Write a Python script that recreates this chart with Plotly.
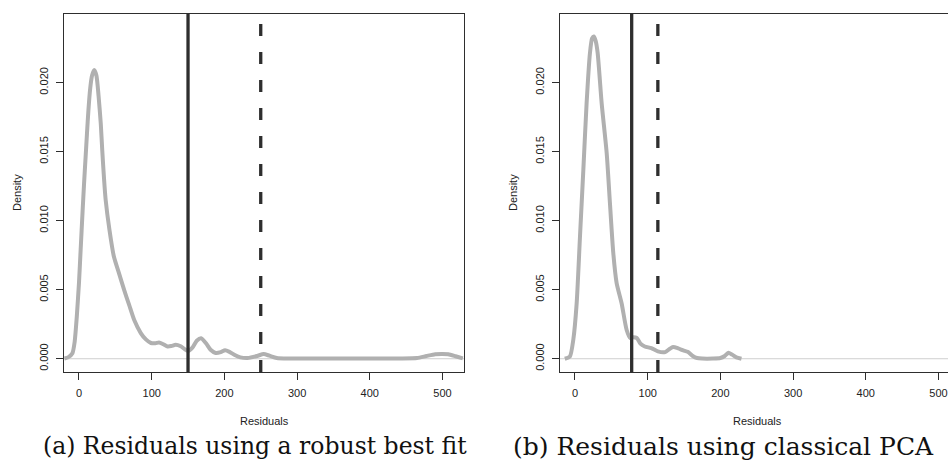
import plotly.graph_objects as go

# ---- data ----
robust_x = [-20, -15, -9, -6, -3, 0, 2.3, 5, 7, 9, 11, 13, 15.5, 18, 21, 24, 27, 30, 32, 34.5, 36.7,
            42, 48, 55, 62, 69, 76, 85, 92, 99, 105, 110, 116, 122, 127, 133, 140, 150,
            156, 162, 168, 175, 181, 188, 195, 201, 207, 215, 222, 232, 245, 254, 262, 272,
            290, 350, 440, 465, 478, 490, 500, 508, 518, 528]
robust_y = [0.00002, 0.0001, 0.0004, 0.0012, 0.00306, 0.0055, 0.0079, 0.0107, 0.0127, 0.0145, 0.0163,
            0.0180, 0.0196, 0.0205, 0.0209, 0.0205, 0.0190, 0.0170, 0.0151, 0.0130, 0.0115,
            0.0093, 0.0074, 0.0062, 0.005, 0.0039, 0.0028, 0.00186, 0.0014, 0.00114, 0.00112, 0.00118,
            0.00105, 0.00089, 0.00092, 0.00101, 0.0009, 0.00055,
            0.0008, 0.0013, 0.00148, 0.0011, 0.00065, 0.00042, 0.00048, 0.00062, 0.0005, 0.00025,
            0.0001, 0.00005, 0.0002, 0.00034, 0.00022, 0.00006,
            0.00002, 0.00001, 0.00002, 0.00005, 0.0002, 0.00033, 0.00035, 0.00033, 0.00018, 0.00002]

pca_x = [-14, -7, -2.3, 2.3, 6.9, 11.5, 16, 20.6, 23.5, 26, 28.5, 31.2, 36.7, 43.6, 48.1, 52.7,
         57.3, 64.2, 71, 76, 80, 85, 90, 96, 105, 114, 124, 130, 135, 142, 149, 155, 162, 168,
         175, 190, 200, 206, 211, 216, 222, 229]
pca_y = [0.0, 0.00017, 0.00138, 0.004, 0.00885, 0.01368, 0.0185, 0.02213, 0.0232, 0.02333, 0.023,
         0.02213, 0.0185, 0.0149, 0.01127, 0.00765, 0.00548, 0.004, 0.0021, 0.0015, 0.00155, 0.0015,
         0.0011, 0.00089, 0.00077, 0.00053, 0.00048, 0.0007, 0.00085, 0.00075, 0.0006, 0.0005,
         0.0002, 0.00005, 0.00001, 0.00001, 0.00005, 0.0002, 0.00043, 0.0003, 0.0001, 0.0]

robust_cutoffs = {"solid": 150, "dash": 250}
pca_cutoffs = {"solid": 78, "dash": 114}

x_ticks = [0, 100, 200, 300, 400, 500]
y_ticks = [0.0, 0.005, 0.010, 0.015, 0.020]
y_tick_text = ["0.000", "0.005", "0.010", "0.015", "0.020"]

captions = ["(a) Residuals using a robust best fit", "(b) Residuals using classical PCA"]

# ---- figure ----
W, H = 948, 463
TOP, BOT = 14, 372          # plot area in pixels
CURVE = "#b0b0b0"
DARK = "#2e2e2e"


def px_x(px):
    return px / W


def px_y(py):
    return (BOT - py) / (BOT - TOP)


fig = go.Figure()
fig.add_trace(go.Scatter(x=robust_x, y=robust_y, mode="lines", xaxis="x", yaxis="y",
                         line=dict(color=CURVE, width=4, shape="spline", smoothing=0.6),
                         showlegend=False, hoverinfo="skip"))
fig.add_trace(go.Scatter(x=pca_x, y=pca_y, mode="lines", xaxis="x2", yaxis="y2",
                         line=dict(color=CURVE, width=4, shape="spline", smoothing=0.6),
                         showlegend=False, hoverinfo="skip"))

tickfont = dict(family="Liberation Sans, Arial, sans-serif", size=11, color="#222")
ax_common = dict(showgrid=False, zeroline=False, showline=True, linecolor=DARK, linewidth=1.2,
                 ticks="outside", ticklen=7, tickwidth=1.1, tickcolor=DARK, tickfont=tickfont,
                 ticklabelstandoff=4)

yrange = [-0.00096, 0.02496]
fig.update_layout(
    width=W, height=H, autosize=False,
    margin=dict(l=0, r=0, t=TOP, b=H - BOT),
    paper_bgcolor="white", plot_bgcolor="white",
    xaxis=dict(domain=[64 / W, 464 / W], range=[-20.6, 529.6], tickvals=x_ticks,
               mirror=True, anchor="y", **ax_common),
    yaxis=dict(domain=[0, 1], range=yrange, tickvals=y_ticks, ticktext=y_tick_text,
               tickangle=-90, mirror=True, anchor="x", **ax_common),
    xaxis2=dict(domain=[560 / W, 1], range=[-20.6, 513.1], tickvals=x_ticks,
                mirror=True, anchor="y2", **ax_common),
    yaxis2=dict(domain=[0, 1], range=yrange, tickvals=y_ticks, ticktext=y_tick_text,
                tickangle=-90, mirror=False, anchor="x2", **ax_common),
)

shapes = []
for xr, yr, cut in [("x", "y", robust_cutoffs), ("x2", "y2", pca_cutoffs)]:
    shapes.append(dict(type="line", xref=xr + " domain", yref=yr, x0=0, x1=1, y0=0, y1=0,
                       line=dict(color="#cfcfcf", width=1), layer="below"))
    shapes.append(dict(type="line", xref=xr, yref=yr + " domain", x0=cut["solid"], x1=cut["solid"],
                       y0=0, y1=1, line=dict(color=DARK, width=3.3)))
    shapes.append(dict(type="line", xref=xr, yref=yr + " domain", x0=cut["dash"], x1=cut["dash"],
                       y0=0, y1=1, line=dict(color=DARK, width=3.3, dash="12px,16px")))
fig.update_layout(shapes=shapes)

lab = dict(family="Liberation Sans, Arial, sans-serif", size=11, color="#222")
ann = []
ann.append(dict(text="Residuals", x=px_x(264), y=px_y(421), xref="paper", yref="paper",
                showarrow=False, font=lab, xanchor="center", yanchor="middle"))
ann.append(dict(text="Residuals", x=px_x(757), y=px_y(421), xref="paper",
                yref="paper", showarrow=False, font=lab, xanchor="center", yanchor="middle"))
ann.append(dict(text="Density", x=px_x(17), y=px_y(193), xref="paper", yref="paper",
                showarrow=False, font=lab, textangle=-90, xanchor="center", yanchor="middle"))
ann.append(dict(text="Density", x=px_x(513), y=px_y(193), xref="paper", yref="paper",
                showarrow=False, font=lab, textangle=-90, xanchor="center", yanchor="middle"))
capfont_a = dict(family="DejaVu Serif, Liberation Serif, serif", size=23.5, color="#111")
capfont_b = dict(family="DejaVu Serif, Liberation Serif, serif", size=25, color="#111")
ann.append(dict(text=captions[0], x=px_x(41), y=px_y(446), xref="paper", yref="paper",
                showarrow=False, font=capfont_a, xanchor="left", yanchor="middle"))
ann.append(dict(text=captions[1], x=px_x(511), y=px_y(446), xref="paper", yref="paper",
                showarrow=False, font=capfont_b, xanchor="left", yanchor="middle"))
fig.update_layout(annotations=ann)

fig.write_html("out.html", config={"displayModeBar": False},
               post_script="document.body.style.margin='0';document.body.style.overflow='hidden';")
